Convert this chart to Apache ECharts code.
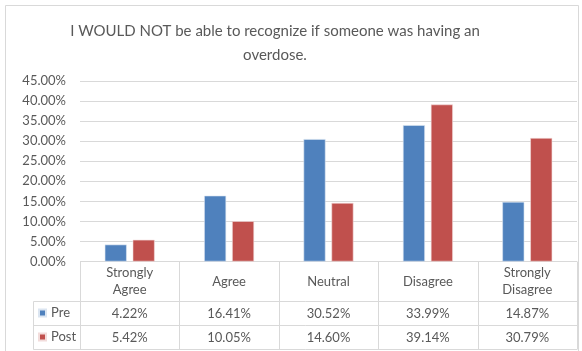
<!DOCTYPE html>
<html>
<head>
<meta charset="utf-8">
<script src="https://cdn.jsdelivr.net/npm/echarts@6/dist/echarts.min.js"></script>
<style>
  html, body { margin: 0; padding: 0; background: #fff; }
  #main { width: 582px; height: 351px; }
</style>
</head>
<body>
<div id="main"></div>
<script>
const categories = ['Strongly\nAgree', 'Agree', 'Neutral', 'Disagree', 'Strongly\nDisagree']
const preValues = [4.22, 16.41, 30.52, 33.99, 14.87]
const postValues = [5.42, 10.05, 14.60, 39.14, 30.79]
const seriesNames = ['Pre', 'Post']
const yMax = 45
const yStep = 5

const FONT = 'Lato, "Open Sans", sans-serif'
const TEXT = '#595959'
const LINE = '#d9d9d9'

// plot box (table sits under it)
const gridLeft = 80
const gridRight = 5
const gridTop = 81
const gridBottomY = 261.5
const keyLeft = 33.5
const rowLines = [261.5, 301.5, 325.5, 349.5]

const pct = v => v.toFixed(2) + '%'

const chart = echarts.init(document.getElementById('main'), null, { renderer: 'canvas' })

function tableLines() {
  const width = 582 - gridLeft - gridRight
  const step = width / categories.length
  const lines = []
  // top border of the header only spans the plot
  lines.push([gridLeft, rowLines[0], gridLeft + width, rowLines[0]])
  for (let i = 1; i < rowLines.length; i++) {
    lines.push([keyLeft, rowLines[i], gridLeft + width, rowLines[i]])
  }
  for (let i = 0; i <= categories.length; i++) {
    const x = Math.round(gridLeft + step * i) + 0.5
    lines.push([x, rowLines[0], x, rowLines[3]])
  }
  lines.push([keyLeft, rowLines[1], keyLeft, rowLines[3]])
  return lines.map(l => ({
    type: 'line',
    silent: true,
    shape: { x1: l[0], y1: l[1], x2: l[2], y2: l[3] },
    style: { stroke: LINE, lineWidth: 1 }
  }))
}

function valueAxis(values, margin) {
  return {
    type: 'category',
    data: categories,
    position: 'bottom',
    axisLine: { show: false },
    axisTick: { show: false },
    axisLabel: {
      interval: 0,
      margin: margin,
      verticalAlign: 'middle',
      color: TEXT,
      fontFamily: FONT,
      fontSize: 13,
      formatter: (v, i) => pct(values[i])
    }
  }
}

const option = {
  animation: false,
  backgroundColor: '#fff',
  color: ['#4f81bd', '#c0504d'],
  title: {
    text: 'I WOULD NOT be able to recognize if someone was having an\noverdose.',
    left: 270,
    top: 14,
    textAlign: 'center',
    textStyle: {
      color: TEXT,
      fontFamily: FONT,
      fontSize: 15,
      fontWeight: 'normal',
      lineHeight: 24
    }
  },
  legend: {
    orient: 'vertical',
    left: 38,
    top: 306,
    icon: 'rect',
    itemWidth: 7,
    itemHeight: 7,
    itemGap: 10,
    padding: 0,
    data: seriesNames,
    textStyle: { color: TEXT, fontFamily: FONT, fontSize: 13, lineHeight: 14 }
  },
  grid: {
    left: gridLeft,
    right: gridRight,
    top: gridTop,
    bottom: 351 - gridBottomY
  },
  xAxis: [
    {
      type: 'category',
      data: categories,
      axisLine: { show: false },
      axisTick: { show: false },
      axisLabel: {
        interval: 0,
        margin: 20,
        verticalAlign: 'middle',
        color: TEXT,
        fontFamily: FONT,
        fontSize: 13,
        lineHeight: 17
      }
    },
    valueAxis(preValues, 52),
    valueAxis(postValues, 76)
  ],
  yAxis: {
    type: 'value',
    min: 0,
    max: yMax,
    interval: yStep,
    axisLine: { show: false },
    axisTick: { show: false },
    splitLine: { lineStyle: { color: LINE, width: 1 } },
    axisLabel: {
      margin: 14,
      color: TEXT,
      fontFamily: FONT,
      fontSize: 13,
      formatter: v => pct(v)
    }
  },
  series: [
    {
      name: seriesNames[0],
      type: 'bar',
      data: preValues,
      barWidth: 22,
      barGap: '27%',
      itemStyle: { borderColor: '#dbe5f1', borderWidth: 0.6 }
    },
    {
      name: seriesNames[1],
      type: 'bar',
      data: postValues,
      barWidth: 22,
      barGap: '27%',
      itemStyle: { borderColor: '#f2dcdb', borderWidth: 0.6 }
    }
  ],
  graphic: [
    {
      type: 'rect',
      silent: true,
      shape: { x: 5.5, y: 5.5, width: 573, height: 360 },
      style: { fill: 'none', stroke: LINE, lineWidth: 1 }
    }
  ].concat(tableLines())
}

chart.setOption(option)
</script>
</body>
</html>
